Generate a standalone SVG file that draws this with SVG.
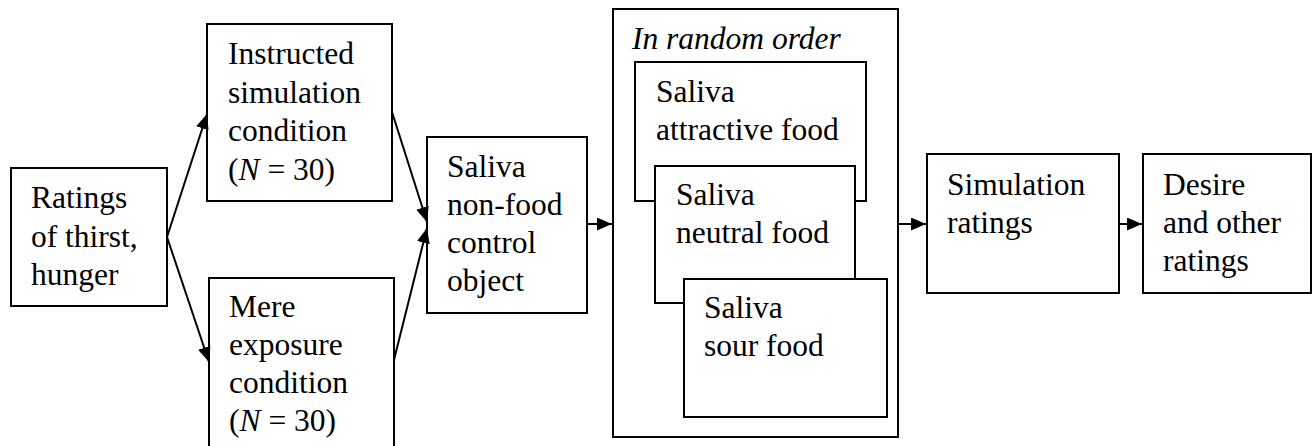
<svg xmlns="http://www.w3.org/2000/svg" width="1314" height="446" viewBox="0 0 1314 446">
<style>
.box{fill:#fff;stroke:#000;stroke-width:2}
text{font-family:'Liberation Serif',serif;font-size:31.5px;fill:#000}
.i{font-style:italic}
.c{stroke:#000;stroke-width:2;fill:none}
</style>
<defs>
<marker id="ah" markerUnits="userSpaceOnUse" markerWidth="16" markerHeight="14" refX="15" refY="6.5" orient="auto">
<path d="M0,0 L15,6.5 L0,13 Z" fill="#000"/>
</marker>
</defs>
<rect width="1314" height="446" fill="#fff"/>
<g id="ratings">
<rect class="box" x="11" y="168" width="156" height="138"/>
<text x="31" y="208">Ratings</text>
<text x="31" y="247">of thirst,</text>
<text x="31" y="285">hunger</text>
</g>
<g id="instructed">
<rect class="box" x="207" y="24" width="185" height="177"/>
<text x="228" y="64">Instructed</text>
<text x="228" y="102.5">simulation</text>
<text x="228" y="141">condition</text>
<text x="228" y="179.5">(<tspan class="i">N</tspan> = 30)</text>
</g>
<g id="mere">
<rect class="box" x="209" y="278" width="185" height="180"/>
<text x="229" y="317">Mere</text>
<text x="229" y="355">exposure</text>
<text x="229" y="393">condition</text>
<text x="229" y="431">(<tspan class="i">N</tspan> = 30)</text>
</g>
<g id="nonfood">
<rect class="box" x="427" y="137" width="160" height="176"/>
<text x="447" y="177">Saliva</text>
<text x="447" y="215">non-food</text>
<text x="447" y="253">control</text>
<text x="447" y="291">object</text>
</g>
<g id="random">
<rect class="box" x="613" y="9" width="285" height="428"/>
<text class="i" x="632" y="49">In random order</text>
</g>
<g id="attractive">
<rect class="box" x="635" y="62" width="231" height="139"/>
<text x="656" y="102">Saliva</text>
<text x="656" y="140">attractive food</text>
</g>
<g id="neutral">
<rect class="box" x="655" y="166" width="200" height="137"/>
<text x="676" y="205">Saliva</text>
<text x="676" y="243">neutral food</text>
</g>
<g id="sour">
<rect class="box" x="684" y="279" width="203" height="138"/>
<text x="704" y="318">Saliva</text>
<text x="704" y="356">sour food</text>
</g>
<g id="simulation">
<rect class="box" x="927" y="154" width="192" height="139"/>
<text x="947" y="195">Simulation</text>
<text x="947" y="233">ratings</text>
</g>
<g id="desire">
<rect class="box" x="1143" y="154" width="168" height="139"/>
<text x="1163" y="195">Desire</text>
<text x="1163" y="233">and other</text>
<text x="1163" y="271">ratings</text>
</g>
<g id="connectors">
<line class="c" x1="167" y1="237" x2="207" y2="114" marker-end="url(#ah)"/>
<line class="c" x1="167" y1="237" x2="209" y2="362" marker-end="url(#ah)"/>
<line class="c" x1="392" y1="112" x2="427" y2="222" marker-end="url(#ah)"/>
<line class="c" x1="394" y1="360" x2="427" y2="228" marker-end="url(#ah)"/>
<line class="c" x1="587" y1="224" x2="612" y2="224" marker-end="url(#ah)"/>
<line class="c" x1="898" y1="224" x2="926" y2="224" marker-end="url(#ah)"/>
<line class="c" x1="1119" y1="224" x2="1142" y2="224" marker-end="url(#ah)"/>
</g>
</svg>
